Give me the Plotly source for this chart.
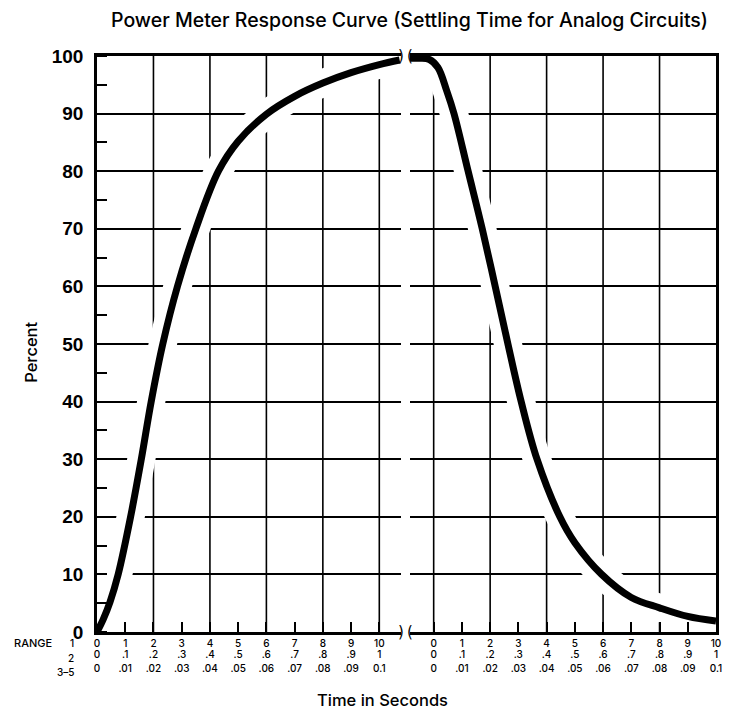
import plotly.graph_objects as go

# ---- data ----
rise_t = [0, 0.22, 0.46, 0.75, 1.19, 1.57, 1.92, 2.33, 2.85, 3.5, 4.3, 5.0, 6.0, 7.0, 8.0, 9.0, 10.0, 10.72]
rise_pct = [0, 2.2, 5.2, 10, 20, 30, 40, 50, 60, 70, 80, 85.2, 89.9, 93.0, 95.3, 97.1, 98.5, 99.3]

fall_t = [-0.84, -0.5, -0.15, 0.15, 0.46, 0.72, 1.22, 1.72, 2.18, 2.63, 3.1, 3.66, 4.47, 5.0, 5.95, 7.0, 8.0, 9.0, 10.0]
fall_pct = [99.6, 99.6, 99.4, 98, 94, 90, 80, 70, 60, 50, 40, 30, 20, 15.5, 10, 6.0, 4.2, 2.7, 1.9]

tick_pos = list(range(0, 11))
range1_labels = ["0", "1", "2", "3", "4", "5", "6", "7", "8", "9", "10"]
range2_labels = ["0", ".1", ".2", ".3", ".4", ".5", ".6", ".7", ".8", ".9", "1"]
range35_labels = ["0", ".01", ".02", ".03", ".04", ".05", ".06", ".07", ".08", ".09", "0.1"]
range_names = ["1", "2", "3–5"]
y_ticks = list(range(0, 101, 10))
left_grid = [2, 4, 6, 8, 10]
right_grid = [0, 2, 4, 6, 8]

title_text = "Power Meter Response Curve (Settling Time for Analog Circuits)"
x_title = "Time in Seconds"
y_title = "Percent"

BLACK = "black"
LEFT_RANGE = [0, 10.77]
RIGHT_RANGE = [-0.84, 10]
fig = go.Figure()

# white halo under curves (gaps in grid around the curve)
for tx, py, xa in [(rise_t, rise_pct, "x"), (fall_t, fall_pct, "x2")]:
    fig.add_trace(go.Scatter(x=tx, y=py, mode="lines", xaxis=xa, yaxis="y" if xa == "x" else "y2",
                             line=dict(color="white", width=28, shape="spline", smoothing=1),
                             hoverinfo="skip"))
for tx, py, xa in [(rise_t, rise_pct, "x"), (fall_t, fall_pct, "x2")]:
    fig.add_trace(go.Scatter(x=tx, y=py, mode="lines", xaxis=xa, yaxis="y" if xa == "x" else "y2",
                             line=dict(color=BLACK, width=7, shape="spline", smoothing=1)))
# empty traces to register the label-row axes
for xa, ya in [("x3", "y"), ("x4", "y"), ("x5", "y2"), ("x6", "y2")]:
    fig.add_trace(go.Scatter(x=[], y=[], xaxis=xa, yaxis=ya, hoverinfo="skip"))

shapes = []
for v in left_grid:
    shapes.append(dict(type="line", xref="x", yref="y domain", x0=v, x1=v, y0=0, y1=1,
                       layer="below", line=dict(color=BLACK, width=1.6)))
for v in right_grid:
    shapes.append(dict(type="line", xref="x2", yref="y2 domain", x0=v, x1=v, y0=0, y1=1,
                       layer="below", line=dict(color=BLACK, width=1.6)))

tickfont = dict(family="Inter", size=10, color=BLACK, weight=500)
common_x = dict(tickmode="array", tickvals=tick_pos, ticktext=range1_labels, ticks="inside",
                ticklen=10, tickwidth=2, tickcolor=BLACK, showgrid=False, zeroline=False,
                showline=True, linecolor=BLACK, linewidth=2.5, mirror=True,
                tickfont=tickfont, ticklabelstandoff=0, fixedrange=True)


def row_axis(over, anchor, rng, labels, standoff):
    return dict(overlaying=over, anchor=anchor, range=rng, tickmode="array", tickvals=tick_pos,
                ticktext=labels, ticks="", showline=False, showgrid=False, zeroline=False,
                tickfont=tickfont, ticklabelstandoff=standoff, fixedrange=True)


def ann(text, x, y, size=11, **kw):
    d = dict(text=text, xref="paper", yref="paper", x=x, y=y, xanchor="center",
             yanchor="middle", showarrow=False,
             font=dict(family="Inter", size=size, color=BLACK, weight=500))
    d.update(kw)
    return d


row_y = [(632 - 643) / 576, (632 - 658) / 576, (632 - 672) / 576]

annotations = [
    ann(title_text, 0.5056, (632 - 20) / 576, size=19.5),
    ann(x_title, 0.461, -0.118, size=16.5),
    ann(y_title, -0.107, 0.486, size=16.5, textangle=-90),
    ann("RANGE", -0.104, row_y[0], size=11),
]
for name, yy in zip(range_names, row_y):
    annotations.append(ann(name, -0.0336, yy, size=10, xanchor="right"))
for xref, xv, txt in [("x domain", 1, ")"), ("x2 domain", 0, "(")]:
    for yv in (0, 1):
        annotations.append(dict(text=txt, xref=xref, yref="y domain", x=xv, y=yv,
                                xanchor="center", yanchor="middle", showarrow=False,
                                font=dict(family="DejaVu Sans", size=15, color=BLACK)))

fig.update_layout(
    width=732, height=711,
    margin=dict(l=97, r=10, t=56, b=79),
    paper_bgcolor="white", plot_bgcolor="white",
    showlegend=False,
    xaxis=dict(domain=[0, 0.4912], range=LEFT_RANGE, anchor="y", **common_x),
    xaxis2=dict(domain=[0.5056, 1], range=RIGHT_RANGE, anchor="y2", **common_x),
    xaxis3=row_axis("x", "y", LEFT_RANGE, range2_labels, 15),
    xaxis4=row_axis("x", "y", LEFT_RANGE, range35_labels, 29),
    xaxis5=row_axis("x2", "y2", RIGHT_RANGE, range2_labels, 15),
    xaxis6=row_axis("x2", "y2", RIGHT_RANGE, range35_labels, 29),
    yaxis=dict(domain=[0, 1], range=[0, 100], anchor="x", tickmode="array", tickvals=y_ticks,
               ticks="", showgrid=True, gridcolor=BLACK, gridwidth=1.6, zeroline=False,
               showline=True, linecolor=BLACK, linewidth=2.5,
               minor=dict(dtick=5, tick0=0, ticks="inside", ticklen=10, tickwidth=2,
                          tickcolor=BLACK, showgrid=False),
               tickfont=dict(family="Liberation Sans", size=19, color=BLACK, weight="bold"),
               ticklabelstandoff=7, fixedrange=True),
    yaxis2=dict(domain=[0, 1], range=[0, 100], anchor="x2", side="right", tickmode="array",
                tickvals=y_ticks, ticks="", showticklabels=False, showgrid=True,
                gridcolor=BLACK, gridwidth=1.6, zeroline=False, showline=True,
                linecolor=BLACK, linewidth=2.5, fixedrange=True),
    shapes=shapes,
    annotations=annotations,
)

fig.write_html("out.html")
